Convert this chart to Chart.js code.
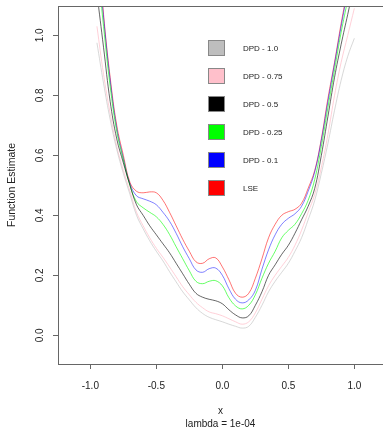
<!DOCTYPE html>
<html>
<head>
<meta charset="utf-8">
<script src="https://cdn.jsdelivr.net/npm/chart.js@4.4.0/dist/chart.umd.min.js"></script>
<style>
  html, body { margin: 0; padding: 0; background: #fff; }
  #wrap { width: 383px; height: 428px; }
</style>
</head>
<body>
<div id="wrap"><canvas id="chart" width="383" height="428"></canvas></div>
<script>
const xs = [-0.95, -0.90, -0.85, -0.80, -0.75, -0.70, -0.65, -0.60, -0.55, -0.50,
            -0.45, -0.40, -0.35, -0.30, -0.25, -0.20, -0.15, -0.10, -0.05, 0.00,
             0.05,  0.10,  0.15,  0.20,  0.25,  0.30,  0.35,  0.40,  0.45, 0.50,
             0.55,  0.60,  0.65,  0.70,  0.75,  0.80,  0.85,  0.90,  0.95, 1.00];

const dpd10 = [0.975, 0.84, 0.72, 0.62, 0.54, 0.47, 0.40, 0.355, 0.315, 0.28,
               0.248, 0.212, 0.178, 0.145, 0.118, 0.092, 0.073, 0.060, 0.052, 0.045,
               0.037, 0.030, 0.024, 0.030, 0.060, 0.100, 0.145, 0.180, 0.210, 0.240,
               0.280, 0.325, 0.385, 0.450, 0.540, 0.640, 0.750, 0.850, 0.930, 0.990];

const dpd075 = [1.03, 0.87, 0.74, 0.63, 0.55, 0.48, 0.41, 0.365, 0.325, 0.29,
                0.26, 0.228, 0.195, 0.162, 0.135, 0.110, 0.092, 0.078, 0.072, 0.065,
                0.055, 0.045, 0.037, 0.045, 0.075, 0.120, 0.165, 0.200, 0.230, 0.260,
                0.300, 0.350, 0.410, 0.470, 0.560, 0.670, 0.800, 0.910, 1.000, 1.090];

const dpd05 = [1.14, 0.96, 0.78, 0.655, 0.575, 0.50, 0.435, 0.40, 0.365, 0.335,
               0.305, 0.275, 0.24, 0.205, 0.17, 0.140, 0.127, 0.120, 0.115, 0.105,
               0.085, 0.068, 0.058, 0.065, 0.100, 0.145, 0.200, 0.235, 0.270, 0.300,
               0.340, 0.385, 0.430, 0.490, 0.600, 0.730, 0.860, 0.970, 1.070, 1.170];

const dpd025 = [1.25, 1.03, 0.83, 0.68, 0.585, 0.50, 0.445, 0.425, 0.41, 0.395,
                0.37, 0.336, 0.295, 0.255, 0.215, 0.180, 0.172, 0.180, 0.182, 0.165,
                0.125, 0.098, 0.088, 0.100, 0.135, 0.190, 0.240, 0.280, 0.325, 0.350,
                0.370, 0.405, 0.450, 0.520, 0.630, 0.760, 0.885, 1.010, 1.120, 1.240];

const dpd01 = [1.30, 1.06, 0.85, 0.69, 0.59, 0.505, 0.465, 0.455, 0.447, 0.435,
               0.41, 0.38, 0.34, 0.295, 0.255, 0.218, 0.210, 0.222, 0.224, 0.200,
               0.155, 0.120, 0.108, 0.118, 0.150, 0.220, 0.285, 0.335, 0.370, 0.390,
               0.405, 0.430, 0.480, 0.545, 0.650, 0.780, 0.905, 1.030, 1.150, 1.270];

const lse = [1.35, 1.07, 0.86, 0.70, 0.60, 0.51, 0.48, 0.475, 0.478, 0.475,
             0.45, 0.41, 0.365, 0.32, 0.28, 0.245, 0.240, 0.255, 0.258, 0.228,
             0.185, 0.140, 0.127, 0.140, 0.190, 0.255, 0.325, 0.370, 0.400, 0.412,
             0.420, 0.440, 0.490, 0.550, 0.655, 0.790, 0.910, 1.040, 1.160, 1.300];

const labels = ['DPD - 1.0', 'DPD - 0.75', 'DPD - 0.5', 'DPD - 0.25', 'DPD - 0.1', 'LSE'];
const series = [dpd10, dpd075, dpd05, dpd025, dpd01, lse];
const lineColors = ['rgba(190,190,190,0.6)', 'rgba(255,192,203,0.75)', 'rgba(0,0,0,0.6)',
                    'rgba(0,255,0,0.6)', 'rgba(0,0,255,0.5)', 'rgba(255,0,0,0.55)'];
const boxColors = ['#bebebe', '#ffc0cb', '#000000', '#00ff00', '#0000ff', '#ff0000'];

const xTicks = [-1.0, -0.5, 0.0, 0.5, 1.0];
const yTicks = [0.0, 0.2, 0.4, 0.6, 0.8, 1.0];

const FONT = 'Liberation Sans, Arial, sans-serif';

// box top line + rotated y tick labels + legend, R style
const rDecor = {
  id: 'rDecor',
  afterDraw(chart) {
    const { ctx, chartArea } = chart;
    const ys = chart.scales.y;
    ctx.save();
    ctx.strokeStyle = '#666';
    ctx.lineWidth = 1;
    ctx.beginPath();
    ctx.moveTo(chartArea.left, Math.round(chartArea.top) + 0.5);
    ctx.lineTo(chartArea.right, Math.round(chartArea.top) + 0.5);
    ctx.stroke();

    ctx.fillStyle = '#222';
    ctx.font = '10px ' + FONT;
    ctx.textAlign = 'center';
    ctx.textBaseline = 'middle';
    yTicks.forEach(v => {
      const py = ys.getPixelForValue(v);
      ctx.save();
      ctx.translate(40, py);
      ctx.rotate(-Math.PI / 2);
      ctx.fillText(v.toFixed(1), 0, 0);
      ctx.restore();
    });

    ctx.font = '8px ' + FONT;
    ctx.textAlign = 'left';
    labels.forEach((lab, i) => {
      const cy = 48 + 28 * i;
      ctx.fillStyle = boxColors[i];
      ctx.fillRect(208.5, cy - 7.5, 16, 15);
      ctx.strokeStyle = '#888';
      ctx.strokeRect(208.5, cy - 7.5, 16, 15);
      ctx.fillStyle = '#222';
      ctx.fillText(lab, 243, cy + 0.5);
    });
    ctx.restore();
  }
};

new Chart(document.getElementById('chart'), {
  type: 'line',
  data: {
    datasets: series.map((s, i) => ({
      label: labels[i],
      data: xs.map((x, j) => ({ x: x, y: s[j] })),
      borderColor: lineColors[i],
      borderWidth: 1,
      pointRadius: 0,
      tension: 0.4,
      fill: false
    }))
  },
  options: {
    responsive: false,
    animation: false,
    layout: { padding: { top: 6, right: 0, left: 0, bottom: 0 } },
    plugins: { legend: { display: false }, tooltip: { enabled: false } },
    scales: {
      x: {
        type: 'linear',
        min: -1.245,
        max: 1.217,
        afterFit: s => { s.height = 64; },
        afterBuildTicks: s => { s.ticks = xTicks.map(v => ({ value: v })); },
        ticks: { color: '#222', font: { family: FONT, size: 10 }, padding: 11,
                 callback: v => Number(v).toFixed(1), maxRotation: 0 },
        grid: { drawOnChartArea: false, drawTicks: true, tickLength: 5, color: '#666' },
        border: { display: true, color: '#666' },
        title: { display: true, text: ['x', 'lambda = 1e-04'], color: '#222',
                 font: { family: FONT, size: 10, lineHeight: 1.3 },
                 padding: { top: 0, bottom: -3 } }
      },
      y: {
        type: 'linear',
        min: -0.0957,
        max: 1.0977,
        afterFit: s => { s.width = 58; },
        afterBuildTicks: s => { s.ticks = yTicks.map(v => ({ value: v })); },
        ticks: { display: false },
        grid: { drawOnChartArea: false, drawTicks: true, tickLength: 5, color: '#666' },
        border: { display: true, color: '#666' },
        title: { display: true, text: 'Function Estimate', color: '#222',
                 font: { family: FONT, size: 10.5 }, padding: { top: 6, bottom: 0 } }
      }
    }
  },
  plugins: [rDecor]
});
</script>
</body>
</html>
